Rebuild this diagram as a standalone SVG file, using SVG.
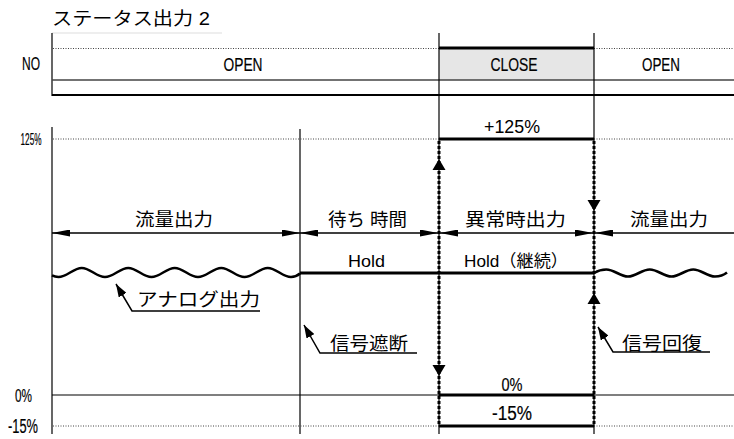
<svg xmlns="http://www.w3.org/2000/svg" width="734" height="439" viewBox="0 0 734 439">
<style>
text{font-family:"Liberation Sans","Noto Sans CJK JP",sans-serif;fill:#000}
.t20{font-size:20px}
.t19{font-size:19px}
.t18{font-size:18px}
.t17{font-size:17px}
.m{text-anchor:middle}
.hv{stroke:#000;stroke-width:0.2}
.thin{stroke:#000;stroke-width:1.2;fill:none}
.dot{stroke:#444;stroke-width:1;stroke-dasharray:1 1.5;fill:none}
.thick{stroke:#000;stroke-width:3;fill:none}
.vdot{stroke:#000;stroke-width:3;stroke-dasharray:3 2;fill:none}
.dim{stroke:#000;stroke-width:1.5;fill:none}
.wave{stroke:#000;stroke-width:2.6;fill:none;stroke-linejoin:round}
.lead{stroke:#000;stroke-width:1.5;fill:none}
</style>
<defs>
<marker id="dimA" viewBox="0 0 18 7" refX="18" refY="3.5" markerWidth="18" markerHeight="7" markerUnits="userSpaceOnUse" orient="auto-start-reverse">
<path d="M0,0 L18,3.5 L0,7 z" fill="#000"/>
</marker>
<marker id="leadA" viewBox="0 0 13 9" refX="13" refY="4.5" markerWidth="13" markerHeight="9" markerUnits="userSpaceOnUse" orient="auto">
<path d="M0,0 L13,4.5 L0,9 z" fill="#000"/>
</marker>
</defs>
<rect width="734" height="439" fill="#fff"/>

<g id="title">
<text x="52" y="25" style="font-size:18px" textLength="158" lengthAdjust="spacingAndGlyphs">ステータス出力 2</text>
<line x1="52" y1="33" x2="222" y2="33" stroke="#ddd" stroke-width="1"/>
</g>

<g id="status-chart">
<rect x="439" y="48" width="155" height="32" fill="#e6e6e6"/>
<line class="thin" x1="52" y1="33" x2="52" y2="96"/>
<line class="dot" x1="53" y1="48.5" x2="439" y2="48.5"/>
<line class="dot" x1="594" y1="48.5" x2="734" y2="48.5"/>
<line class="thick" x1="439" y1="48" x2="594" y2="48"/>
<line x1="52" y1="80" x2="734" y2="80" stroke="#444" stroke-width="1.5"/>
<line x1="52" y1="95" x2="734" y2="95" stroke="#000" stroke-width="2"/>
<text class="t19 m hv" x="31" y="70" textLength="18" lengthAdjust="spacingAndGlyphs">NO</text>
<text class="t19 m hv" x="243" y="70.5" textLength="39" lengthAdjust="spacingAndGlyphs">OPEN</text>
<text class="t19 m hv" x="514" y="71" textLength="47" lengthAdjust="spacingAndGlyphs">CLOSE</text>
<text class="t19 m hv" x="661" y="71" textLength="38" lengthAdjust="spacingAndGlyphs">OPEN</text>
</g>

<g id="output-chart">
<line class="thin" x1="52" y1="127" x2="52" y2="434"/>
<line class="thin" x1="300" y1="129" x2="300" y2="434"/>
<line class="dot" x1="53" y1="139" x2="439" y2="139"/>
<line class="dot" x1="594" y1="139" x2="734" y2="139"/>
<line class="thick" x1="439" y1="139" x2="594" y2="139"/>
<line class="thin" x1="52" y1="395" x2="734" y2="395"/>
<line class="thick" x1="439" y1="395" x2="594" y2="395"/>
<line class="dot" x1="53" y1="426" x2="439" y2="426"/>
<line class="dot" x1="594" y1="426" x2="734" y2="426"/>
<line class="thick" x1="439" y1="426" x2="594" y2="426"/>
<text class="t17 m hv" x="31" y="145" textLength="21" lengthAdjust="spacingAndGlyphs">125%</text>
<text class="t19 m hv" x="23.5" y="401.5" textLength="17" lengthAdjust="spacingAndGlyphs">0%</text>
<text class="t20 m hv" x="23" y="433" textLength="30" lengthAdjust="spacingAndGlyphs">-15%</text>
<text class="t18 m" x="512" y="133" textLength="56" lengthAdjust="spacingAndGlyphs">+125%</text>
<text class="t19 m hv" x="512" y="390.5" textLength="21" lengthAdjust="spacingAndGlyphs">0%</text>
<text class="t20 m hv" x="512" y="420" textLength="40" lengthAdjust="spacingAndGlyphs">-15%</text>
</g>

<g id="signal">
<path class="wave" d="M52,275.4 Q55,277 58.5,277 C67,277 73.3,268 81.75,268 C90.2,268 96.5,277 105,277 C113.5,277 119.8,268 128.25,268 C136.7,268 143,277 151.5,277 C160,277 166.3,268 174.75,268 C183.2,268 189.5,277 198,277 C206.5,277 212.8,268 221.25,268 C229.7,268 236,277 244.5,277 C253,277 259.3,268 267.75,268 C276.2,268 282.5,277 291,277 Q296,277 300,273.5"/>
<line class="thick" x1="300" y1="273" x2="594" y2="273"/>
<path class="wave" d="M594,273 Q600,269.5 606.25,269.5 C614.2,269.5 620.1,276.5 628,276.5 C635.9,276.5 641.8,269.5 649.75,269.5 C657.7,269.5 663.6,276.5 671.5,276.5 C679.4,276.5 685.3,269.5 693.25,269.5 C701.2,269.5 707.1,276.5 715,276.5 Q722,276.5 727,272.5"/>
<text class="t17 m" x="366.5" y="267" textLength="37" lengthAdjust="spacingAndGlyphs">Hold</text>
<text class="t17 m" x="516" y="267" textLength="104" lengthAdjust="spacingAndGlyphs">Hold（継続）</text>
</g>

<g id="phase-labels">
<text class="t18 m" x="174" y="226" textLength="78" lengthAdjust="spacingAndGlyphs">流量出力</text>
<text class="t18 m" x="367.5" y="226" textLength="79" lengthAdjust="spacingAndGlyphs">待ち 時間</text>
<text class="t18 m" x="515.5" y="226" textLength="101" lengthAdjust="spacingAndGlyphs">異常時出力</text>
<text class="t18 m" x="669" y="226" textLength="78" lengthAdjust="spacingAndGlyphs">流量出力</text>
</g>

<g id="callout-analog">
<text class="t18" x="137" y="306" textLength="123" lengthAdjust="spacingAndGlyphs">アナログ出力</text>
</g>
<g id="callout-cut">
<text class="t18" x="330" y="350" textLength="78" lengthAdjust="spacingAndGlyphs">信号遮断</text>
</g>
<g id="callout-recover">
<text class="t18" x="622" y="350" textLength="80" lengthAdjust="spacingAndGlyphs">信号回復</text>
</g>

<g id="connectors">
<line class="thin" x1="439" y1="33" x2="439" y2="434"/>
<line class="thin" x1="594" y1="33" x2="594" y2="434"/>
<line class="vdot" x1="439" y1="141" x2="439" y2="424"/>
<line class="vdot" x1="594" y1="141" x2="594" y2="424"/>
<polygon points="439,159 432.5,170 445.5,170" fill="#000"/>
<polygon points="439,376 432.5,365 445.5,365" fill="#000"/>
<polygon points="594,211 587.5,200 600.5,200" fill="#000"/>
<polygon points="594,293 587.5,304 600.5,304" fill="#000"/>
<line class="dim" x1="52" y1="233" x2="300" y2="233" marker-start="url(#dimA)" marker-end="url(#dimA)"/>
<line class="dim" x1="300" y1="233" x2="438" y2="233" marker-start="url(#dimA)" marker-end="url(#dimA)"/>
<line class="dim" x1="440" y1="233" x2="593" y2="233" marker-start="url(#dimA)" marker-end="url(#dimA)"/>
<line class="dim" x1="734" y1="233" x2="595" y2="233" marker-end="url(#dimA)"/>
<path class="lead" d="M260,311 L132,311 L116,284" marker-end="url(#leadA)"/>
<path class="lead" d="M417,353 L320,353 L304,325" marker-end="url(#leadA)"/>
<path class="lead" d="M710,352 L613,352 L598,327" marker-end="url(#leadA)"/>
</g>
</svg>
